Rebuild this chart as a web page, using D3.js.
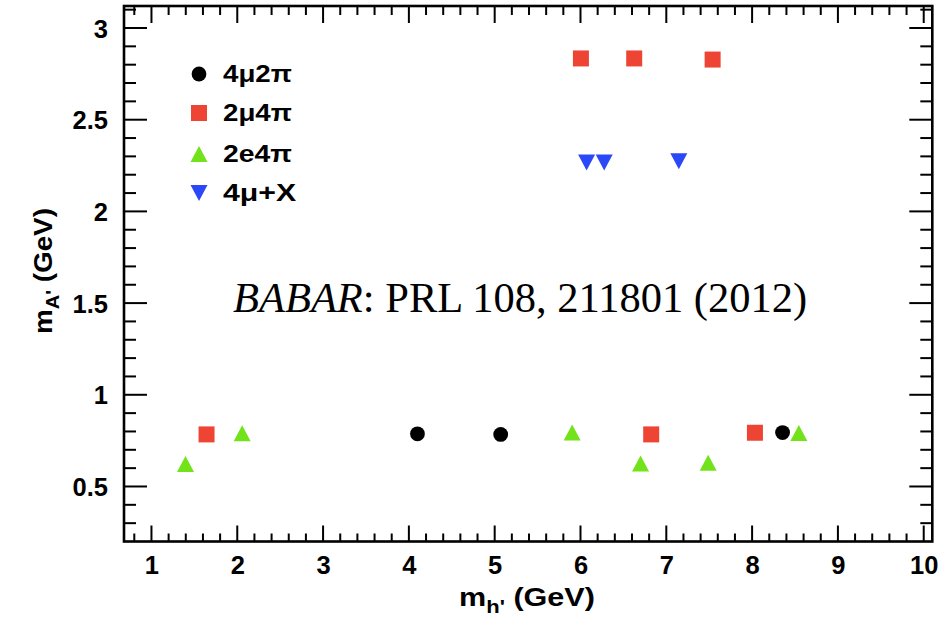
<!DOCTYPE html>
<html>
<head>
<meta charset="utf-8">
<script src="https://cdn.jsdelivr.net/npm/d3@7"></script>
<style>
  html, body { margin: 0; padding: 0; background: #fff; }
  svg { display: block; }
</style>
</head>
<body>
<svg id="chart" width="943" height="619"></svg>
<script>
// Search channels: [m_h' (GeV), m_A' (GeV)]
const channels = ["4μ2π", "2μ4π", "2e4π", "4μ+X"];
const pts4mu2pi = [[4.10, 0.787], [5.07, 0.784], [8.355, 0.794]];
const pts2mu4pi = [[1.642, 0.784], [6.824, 0.784], [8.033, 0.793],
                   [6.005, 2.834], [6.626, 2.834], [7.540, 2.828]];
const pts2e4pi  = [[1.397, 0.623], [2.057, 0.790], [5.903, 0.794],
                   [6.700, 0.625], [7.488, 0.629], [8.545, 0.792]];
const pts4muX   = [[6.071, 2.266], [6.276, 2.266], [7.146, 2.274]];

const xTicks = [1, 2, 3, 4, 5, 6, 7, 8, 9, 10];
const yTicks = [0.5, 1, 1.5, 2, 2.5, 3];

const series = [
  { name: channels[0], pts: pts4mu2pi, shape: "circle",   color: "#000000" },
  { name: channels[1], pts: pts2mu4pi, shape: "square",   color: "#ee4433" },
  { name: channels[2], pts: pts2e4pi,  shape: "triangle", color: "#72e31a" },
  { name: channels[3], pts: pts4muX,   shape: "invtri",   color: "#2a48f7" }
];

const svg = d3.select("#chart");
const frameL = 124, frameR = 932.3, frameT = 6, frameB = 541.5;

const x = d3.scaleLinear().domain([0.68, 10.1]).range([frameL, frameR]);
const y = d3.scaleLinear().domain([0.2, 3.12]).range([frameB, frameT]);

const font = "'Liberation Sans', Arial, Helvetica, sans-serif";

// Stretch a text element horizontally (in its own frame) to a given width
function fitWidth(sel, target, base) {
  const w = sel.node().getBBox().width;
  sel.attr("transform", `${base} scale(${target / w},1)`);
}

// Marker paths centred on the origin
function markerPath(shape) {
  if (shape === "circle") return d3.symbol(d3.symbolCircle, 172)();
  if (shape === "square") return "M-8,-8H8V8H-8Z";
  if (shape === "triangle") return "M0,-8L8.5,8L-8.5,8Z";
  return "M0,8L8.5,-8L-8.5,-8Z";
}

// Minor and major ticks on all four sides
const xMinor = d3.range(0.8, 10.01, 0.2).map(v => +v.toFixed(2));
const yMinor = d3.range(0.3, 3.11, 0.1).map(v => +v.toFixed(2));
const isMajorX = v => Math.abs(v - Math.round(v)) < 1e-6;
const isMajorY = v => Math.abs(v * 2 - Math.round(v * 2)) < 1e-6;

const tickG = svg.append("g").attr("stroke", "#000").attr("stroke-width", 2);
xMinor.forEach(v => {
  const len = isMajorX(v) ? 16 : 8;
  tickG.append("line").attr("x1", x(v)).attr("x2", x(v))
    .attr("y1", frameB).attr("y2", frameB - len);
  tickG.append("line").attr("x1", x(v)).attr("x2", x(v))
    .attr("y1", frameT).attr("y2", frameT + (isMajorX(v) ? 17 : 9));
});
yMinor.forEach(v => {
  const len = isMajorY(v) ? 23 : 12;
  tickG.append("line").attr("y1", y(v)).attr("y2", y(v))
    .attr("x1", frameL).attr("x2", frameL + len);
  tickG.append("line").attr("y1", y(v)).attr("y2", y(v))
    .attr("x1", frameR).attr("x2", frameR - len);
});

// Frame
svg.append("rect")
  .attr("x", frameL).attr("y", frameT)
  .attr("width", frameR - frameL).attr("height", frameB - frameT)
  .attr("fill", "none").attr("stroke", "#000").attr("stroke-width", 2.6);

// Tick labels via d3 axes (tick lines hidden; drawn above)
const xAxis = svg.append("g")
  .attr("transform", `translate(0,${frameB})`)
  .call(d3.axisBottom(x).tickValues(xTicks).tickSize(0).tickPadding(14).tickFormat(d3.format("d")));
const yAxis = svg.append("g")
  .attr("transform", `translate(${frameL},0)`)
  .call(d3.axisLeft(y).tickValues(yTicks).tickSize(0).tickPadding(16).tickFormat(d => String(d)));
[xAxis, yAxis].forEach(a => {
  a.select(".domain").remove();
  a.selectAll("text")
    .attr("font-family", font).attr("font-weight", "bold")
    .attr("font-size", 25.5).attr("fill", "#000");
});
yAxis.selectAll("text").attr("dy", "0.36em");

// Axis titles
const xt = svg.append("text")
  .attr("x", 0).attr("y", 0)
  .attr("font-family", font).attr("font-weight", "bold").attr("font-size", 25);
xt.append("tspan").text("m");
xt.append("tspan").attr("font-size", 18).attr("dy", 7).text("h'");
xt.append("tspan").attr("dy", -7).text(" (GeV)");
fitWidth(xt, 136, "translate(459,606)");

const yt = svg.append("text")
  .attr("x", 0).attr("y", 0)
  .attr("font-family", font).attr("font-weight", "bold").attr("font-size", 25);
yt.append("tspan").text("m");
yt.append("tspan").attr("font-size", 18).attr("dy", 7).text("A'");
yt.append("tspan").attr("dy", -7).text(" (GeV)");
fitWidth(yt, 126, "translate(52,334) rotate(-90)");

// Data markers
series.forEach(s => {
  svg.append("g").selectAll("path").data(s.pts).join("path")
    .attr("d", markerPath(s.shape))
    .attr("transform", d => `translate(${x(d[0])},${y(d[1])})`)
    .attr("fill", s.color);
});

// Legend
const legendRows = [74, 113, 154, 193];
const legendWidths = [69, 69, 69, 74];
series.forEach((s, i) => {
  svg.append("path")
    .attr("d", markerPath(s.shape))
    .attr("transform", `translate(199,${legendRows[i]})`)
    .attr("fill", s.color);
  const t = svg.append("text")
    .attr("x", 0).attr("y", 0).attr("dy", "0.36em")
    .attr("font-family", font).attr("font-weight", "bold").attr("font-size", 23)
    .text(s.name);
  fitWidth(t, legendWidths[i], `translate(223,${legendRows[i]})`);
});

// Reference annotation
const ann = svg.append("text")
  .attr("x", 233).attr("y", 312)
  .attr("font-family", "'Liberation Serif', 'Times New Roman', Times, serif")
  .attr("font-size", 42.5);
ann.append("tspan").attr("font-style", "italic").text("BABAR");
ann.append("tspan").text(": PRL 108, 211801 (2012)");
</script>
</body>
</html>
